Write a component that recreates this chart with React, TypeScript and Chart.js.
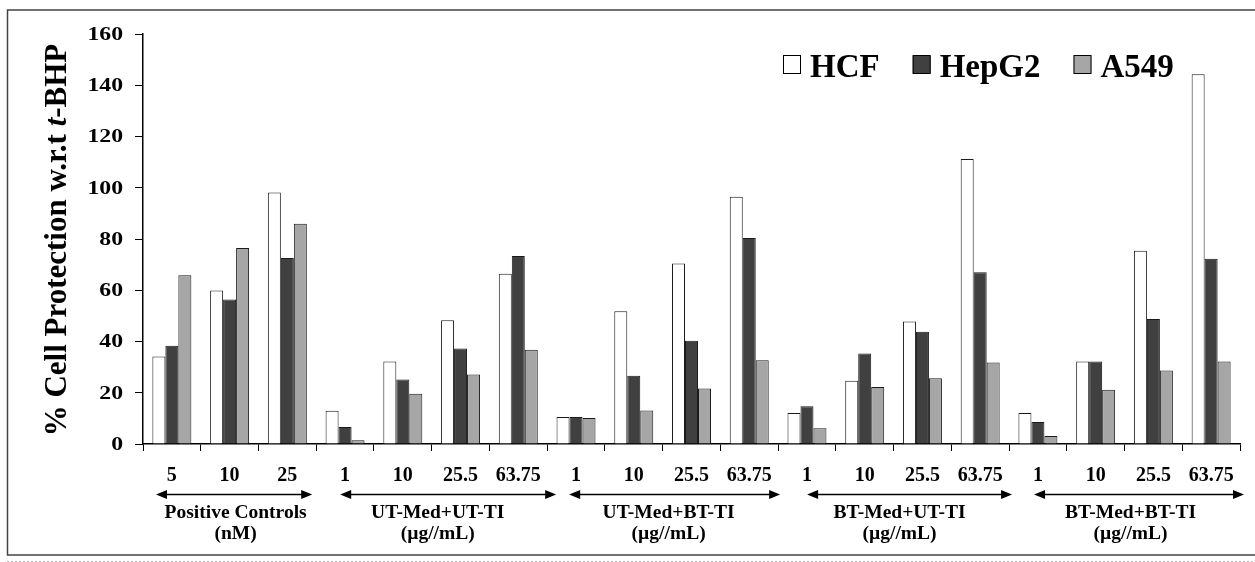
import React, { useEffect, useRef } from "react";
import Chart from "chart.js/auto";

const CATEGORIES = ["5", "10", "25", "1", "10", "25.5", "63.75", "1", "10", "25.5", "63.75", "1", "10", "25.5", "63.75", "1", "10", "25.5", "63.75"];
const SERIES_NAMES = ["HCF", "HepG2", "A549"];
const HCF = [34.1, 59.9, 98.1, 13.0, 32.2, 48.3, 66.4, 10.5, 51.8, 70.4, 96.5, 12.1, 24.7, 47.8, 111.2, 12.1, 32.2, 75.4, 144.3];
const HEPG2 = [38.3, 56.4, 72.6, 6.6, 25.2, 37.3, 73.4, 10.5, 26.6, 40.3, 80.4, 14.7, 35.3, 43.8, 67.0, 8.6, 32.2, 48.8, 72.3];
const A549 = [65.9, 76.5, 86.0, 1.5, 19.6, 27.1, 36.8, 10.1, 13.1, 21.7, 32.7, 6.1, 22.2, 25.7, 31.8, 3.1, 21.2, 28.7, 32.2];
const GROUP_NAMES = ["Positive Controls", "UT-Med+UT-TI", "UT-Med+BT-TI", "BT-Med+UT-TI", "BT-Med+BT-TI"];
const GROUP_UNITS = ["(nM)", "(µg//mL)", "(µg//mL)", "(µg//mL)", "(µg//mL)"];
const GROUP_SIZES = [3, 4, 4, 4, 4];
const Y_MIN = 0;
const Y_MAX = 160;
const Y_STEP = 20;

const FONT = "'Liberation Serif', 'Times New Roman', serif";
const COLORS = ["#ffffff", "#404040", "#a6a6a6"];
// arrow insets (left, right) relative to group edges, in px
const ARROW_INSETS = [[13, -4], [24, 9], [22, 2], [29, 3], [25, 4]];

const decorPlugin = {
  id: "decor",
  afterDraw(chart: any) {
    const ctx = chart.ctx as CanvasRenderingContext2D;
    const xs = chart.scales.x;
    const ys = chart.scales.y;
    const ca = chart.chartArea;
    const W = chart.width;
    ctx.save();

    // frame
    ctx.strokeStyle = "#444";
    ctx.lineWidth = 1.5;
    ctx.beginPath();
    ctx.moveTo(W + 5, 10);
    ctx.lineTo(7.5, 10);
    ctx.lineTo(7.5, 555);
    ctx.lineTo(W + 5, 555);
    ctx.stroke();
    // dotted line at bottom
    ctx.strokeStyle = "#b5b5b5";
    ctx.lineWidth = 1;
    ctx.setLineDash([2, 2]);
    ctx.beginPath();
    ctx.moveTo(7, 561.5);
    ctx.lineTo(W, 561.5);
    ctx.stroke();
    ctx.setLineDash([]);

    // y tick labels (wide bold serif), from the scale's own ticks
    ctx.fillStyle = "#000";
    ctx.font = `bold 19px ${FONT}`;
    ctx.textAlign = "right";
    ctx.textBaseline = "middle";
    ys.ticks.forEach((t: any) => {
      const py = ys.getPixelForValue(t.value);
      ctx.save();
      ctx.translate(123, py + 1);
      ctx.scale(1.25, 1);
      ctx.fillText(String(t.label), 0, 0);
      ctx.restore();
    });

    // y title with italic t
    const parts = [
      { t: "% Cell Protection w.r.t ", f: `bold 31px ${FONT}` },
      { t: "t", f: `italic bold 31px ${FONT}` },
      { t: "-BHP", f: `bold 31px ${FONT}` },
    ];
    let total = 0;
    const widths = parts.map((p) => {
      ctx.font = p.f;
      const w = ctx.measureText(p.t).width;
      total += w;
      return w;
    });
    ctx.save();
    ctx.translate(66, (ca.top + ca.bottom) / 2 + 1);
    ctx.rotate(-Math.PI / 2);
    ctx.fillStyle = "#000";
    ctx.textBaseline = "alphabetic";
    ctx.textAlign = "left";
    let px = -total / 2;
    parts.forEach((p, i) => {
      ctx.font = p.f;
      ctx.fillText(p.t, px, 0);
      px += widths[i];
    });
    ctx.restore();

    // legend
    let lx = 783;
    ctx.font = `bold 33px ${FONT}`;
    ctx.textBaseline = "alphabetic";
    ctx.textAlign = "left";
    chart.data.datasets.forEach((ds: any) => {
      ctx.fillStyle = ds.backgroundColor;
      ctx.fillRect(lx, 55.5, 18, 18);
      ctx.strokeStyle = "#000";
      ctx.lineWidth = 1;
      ctx.strokeRect(lx + 0.5, 55.5, 17, 18);
      ctx.fillStyle = "#000";
      ctx.fillText(ds.label, lx + 27, 76.5);
      lx += 27 + ctx.measureText(ds.label).width + 33;
    });

    // group arrows and labels
    const cw = xs.getPixelForValue(1) - xs.getPixelForValue(0);
    let start = 0;
    const ay = 494.5;
    GROUP_SIZES.forEach((n, gi) => {
      const left = xs.getPixelForValue(start) - cw / 2;
      const right = xs.getPixelForValue(start + n - 1) + cw / 2;
      const a = left + ARROW_INSETS[gi][0];
      const b = right + ARROW_INSETS[gi][1];
      ctx.strokeStyle = "#000";
      ctx.fillStyle = "#000";
      ctx.lineWidth = 1.6;
      ctx.beginPath();
      ctx.moveTo(a + 5, ay);
      ctx.lineTo(b - 5, ay);
      ctx.stroke();
      ctx.beginPath();
      ctx.moveTo(a, ay);
      ctx.lineTo(a + 11, ay - 4.5);
      ctx.lineTo(a + 11, ay + 4.5);
      ctx.closePath();
      ctx.fill();
      ctx.beginPath();
      ctx.moveTo(b, ay);
      ctx.lineTo(b - 11, ay - 4.5);
      ctx.lineTo(b - 11, ay + 4.5);
      ctx.closePath();
      ctx.fill();
      const cx = (left + right) / 2 + 6;
      ctx.font = `bold 19.5px ${FONT}`;
      ctx.textAlign = "center";
      ctx.textBaseline = "alphabetic";
      ctx.fillText(GROUP_NAMES[gi], cx, 517.5);
      ctx.fillText(GROUP_UNITS[gi], cx, 538.5);
      start += n;
    });
    ctx.restore();
  },
};

export default function App() {
  const ref = useRef<HTMLCanvasElement | null>(null);
  useEffect(() => {
    if (!ref.current) return;
    const values = [HCF, HEPG2, A549];
    const chart = new Chart(ref.current, {
      type: "bar",
      data: {
        labels: CATEGORIES,
        datasets: SERIES_NAMES.map((name, i) => ({
          label: name,
          data: values[i],
          backgroundColor: COLORS[i],
          borderColor: "#1a1a1a",
          borderWidth: 1,
          categoryPercentage: 0.675,
          barPercentage: 1,
        })),
      },
      options: {
        animation: false,
        responsive: true,
        maintainAspectRatio: false,
        layout: { padding: { top: 34, right: 15, left: 0, bottom: 0 } },
        plugins: { legend: { display: false }, tooltip: { enabled: false } },
        scales: {
          x: {
            offset: true,
            grid: { display: true, drawOnChartArea: false, drawTicks: true, tickLength: 7, color: "#000", offset: true },
            border: { color: "#000", width: 1.5 },
            ticks: {
              font: { family: FONT, weight: "bold", size: 20 },
              color: "#000",
              padding: 13,
              maxRotation: 0,
              autoSkip: false,
            },
            afterFit: (s: any) => {
              s.height = 118;
            },
          },
          y: {
            min: Y_MIN,
            max: Y_MAX,
            grid: { display: true, drawOnChartArea: false, drawTicks: true, tickLength: 8, color: "#000" },
            border: { color: "#000", width: 1.5 },
            ticks: {
              stepSize: Y_STEP,
              font: { family: FONT, weight: "bold", size: 18 },
              color: "rgba(0,0,0,0)",
              padding: 10,
            },
            afterFit: (s: any) => {
              s.width = 143;
            },
          },
        },
      },
      plugins: [decorPlugin],
    });
    return () => chart.destroy();
  }, []);
  return (
    <div style={{ position: "absolute", left: 0, top: 0, width: 1255, height: 562, background: "#fff" }}>
      <canvas ref={ref} />
    </div>
  );
}
